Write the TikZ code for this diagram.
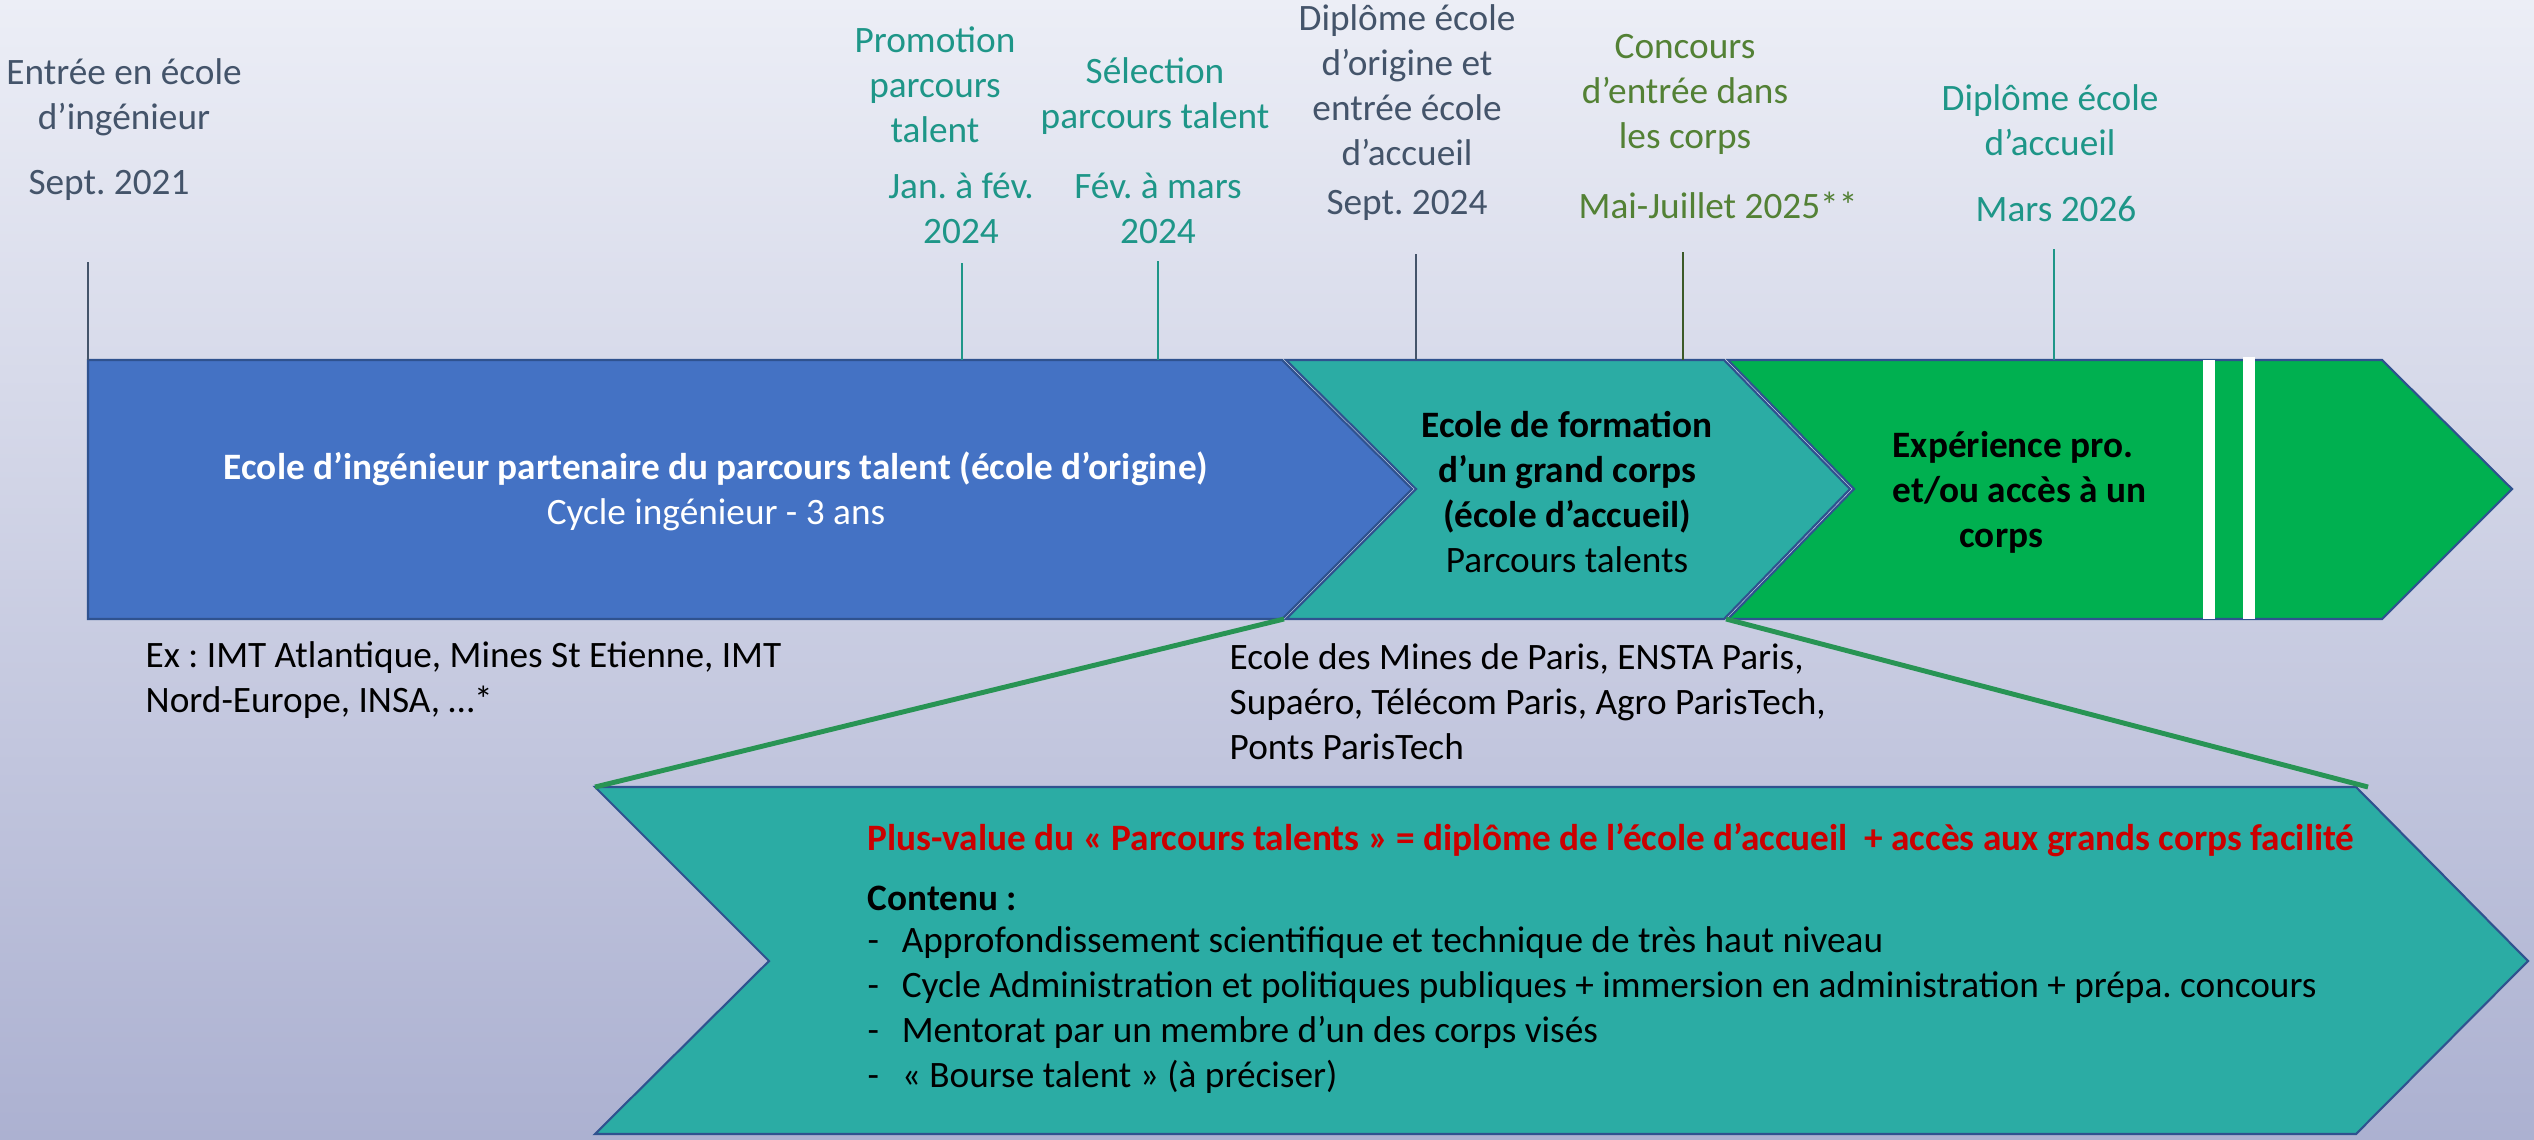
\documentclass[tikz,border=0pt]{standalone}
\usepackage{fontspec}
\setmainfont{Carlito}
\frenchspacing

\definecolor{bgtop}{RGB}{236,238,246}
\definecolor{bgbot}{RGB}{172,177,209}
\definecolor{chblue}{RGB}{68,114,196}
\definecolor{chteal}{RGB}{43,172,164}
\definecolor{chgreen}{RGB}{0,176,80}
\definecolor{chline}{RGB}{47,82,143}
\definecolor{txgray}{RGB}{68,84,106}
\definecolor{txteal}{RGB}{30,150,136}
\definecolor{txolive}{RGB}{83,129,53}
\definecolor{lnolive}{RGB}{60,90,40}
\definecolor{zoomgreen}{RGB}{40,148,84}
\definecolor{txred}{RGB}{204,0,0}

\begin{document}
\begin{tikzpicture}[x=0.01cm,y=-0.01cm]
\def\txt{\fontsize{10.6}{12.8}\selectfont}
\def\dash{\makebox[9.7pt][l]{-}}
\tikzstyle{lab}=[align=center,inner sep=0pt,font=\txt];
\tikzstyle{lst}=[align=left,anchor=west,inner sep=0pt,font=\txt];
\tikzstyle{chev}=[draw=chline,line width=0.6pt,line join=miter];
\tikzstyle{tick}=[line width=0.45pt];
\tikzstyle{zoom}=[zoomgreen,line width=1.4pt];

\useasboundingbox (0,0) rectangle (2534,1139);
\shade [top color=bgtop,bottom color=bgbot] (0,0) rectangle (2534,1139);

%% timeline chevrons
\filldraw [chev,fill=chblue] (88,360) -- (1282,360) -- (1412,489) -- (1282,619) -- (88,619) -- cycle;
\filldraw [chev,fill=chteal] (1286,360) -- (1724,360) -- (1850,489) -- (1724,619) -- (1286,619) -- (1416,489) -- cycle;
\filldraw [chev,fill=chgreen] (1728,360) -- (2382,360) -- (2512,489) -- (2382,619) -- (1728,619) -- (1854,489) -- cycle;
\fill [white] (2203,360) rectangle (2215,619);
\fill [white] (2243,357) rectangle (2255,619);

\coordinate (bar) at (0,360);
\coordinate (tealsw) at (1284,619);
\coordinate (tealse) at (1726,619);

%% dates above the bar
\node [lab,txgray] (entree) at (124,97) {Entrée en école\\d’ingénieur};
\node [lab,txgray] (sept21) at (109,185) {Sept. 2021};
\node [lab,txteal] (promo) at (935,85) {Promotion\\parcours\\talent};
\node [lab,txteal] (janfev) at (961,208) {Jan. à fév.\\2024};
\node [lab,txteal] (select) at (1155,96) {Sélection\\parcours talent};
\node [lab,txteal] (fevmars) at (1158,208) {Fév. à mars\\2024};
\node [lab,txgray] (diplo) at (1407,85) {Diplôme école\\d’origine et\\entrée école\\d’accueil};
\node [lab,txgray] (sept24) at (1407,205) {Sept. 2024};
\node [lab,txolive] (concours) at (1685,94) {Concours\\d’entrée dans\\les corps};
\node [lab,txolive] (maijuil) at (1718,205) {Mai-Juillet 2025**};
\node [lab,txteal] (diplacc) at (2050,120) {Diplôme école\\d’accueil};
\node [lab,txteal] (mars26) at (2056,209) {Mars 2026};

\coordinate (t1) at (88,262);
\coordinate (t2) at (962,263);
\coordinate (t3) at (1158,261);
\coordinate (t4) at (1416,254);
\coordinate (t5) at (1683,252);
\coordinate (t6) at (2054,249);
\draw [tick,txgray] (t1) -- (t1 |- bar);
\draw [tick,txteal] (t2) -- (t2 |- bar);
\draw [tick,txteal] (t3) -- (t3 |- bar);
\draw [tick,txgray] (t4) -- (t4 |- bar);
\draw [tick,lnolive] (t5) -- (t5 |- bar);
\draw [tick,txteal] (t6) -- (t6 |- bar);

%% texts in the bar
\node [lab,white] (origine) at (716,491) {\textbf{Ecole d’ingénieur partenaire du parcours talent (école d’origine)}\\Cycle ingénieur - 3 ans};
\node [lab] (accueil) at (1567,492) {\textbf{Ecole de formation}\\\textbf{d’un grand corps}\\\textbf{(école d’accueil)}\\Parcours talents};
\node [lst] (expe) at (1892,492) {\textbf{Expérience pro.}\\\textbf{et/ou accès à un}\\\hspace*{19pt}\textbf{corps}};

\node [lst] (exlist) at (145,680) {Ex : IMT Atlantique, Mines St Etienne, IMT\\Nord-Europe, INSA, …*};
\node [lst] (acclist) at (1229,702) {Ecole des Mines de Paris, ENSTA Paris,\\Supaéro, Télécom Paris, Agro ParisTech,\\Ponts ParisTech};

%% zoom on the parcours talents
\coordinate (bignw) at (595,787);
\coordinate (bigne) at (2368,787);
\filldraw [chev,fill=chteal] (595,787) -- (2356,787) -- (2528,961) -- (2356,1134) -- (595,1134) -- (769,961) -- cycle;
\draw [zoom] (tealsw) -- (bignw);
\draw [zoom] (tealse) -- (bigne);

\node [lst,txred] (plus) at (867,840) {\textbf{Plus-value du « Parcours talents » = diplôme de l’école d’accueil \ + accès aux grands corps facilité}};
\node [lst] (contenu) at (867,898) {\textbf{Contenu :}};
\node [lst] (items) at (867,1010) {\dash Approfondissement scientifique et technique de très haut niveau\\\dash Cycle Administration et politiques publiques + immersion en administration + prépa. concours\\\dash Mentorat par un membre d’un des corps visés\\\dash « Bourse talent » (à préciser)};
\end{tikzpicture}
\end{document}
